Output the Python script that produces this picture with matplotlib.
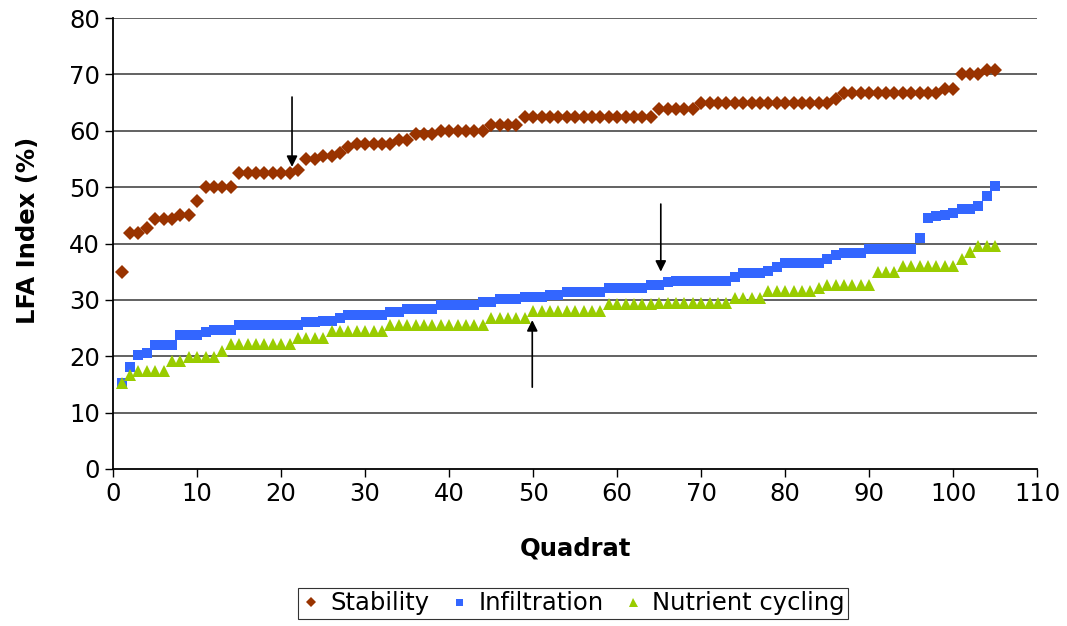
import numpy as np
import matplotlib.pyplot as plt

plt.rcParams['font.family'] = ['DejaVu Sans']

# (value, number of consecutive quadrats) runs, sorted ascending
stability_runs = [(35.0, 1), (41.8, 2), (42.8, 1), (44.4, 3), (45.1, 2), (47.5, 1),
                  (50.0, 4), (52.5, 7), (53.1, 1), (55.0, 2), (55.5, 2), (56.1, 1),
                  (57.2, 1), (57.6, 5), (58.4, 2), (59.4, 3), (60.0, 6), (61.1, 4),
                  (62.4, 16), (63.8, 5), (65.0, 16), (65.6, 1), (66.7, 12), (67.5, 2),
                  (70.0, 3), (70.8, 2)]
infiltration_runs = [(15.3, 1), (18.0, 1), (20.3, 1), (20.5, 1), (22.0, 3), (23.7, 3),
                     (24.3, 1), (24.7, 3), (25.5, 8), (26.0, 2), (26.3, 2), (26.8, 1),
                     (27.3, 5), (27.9, 2), (28.4, 4), (29.0, 5), (29.6, 2), (30.1, 3),
                     (30.5, 3), (30.9, 2), (31.4, 5), (32.1, 5), (32.7, 2), (33.1, 1),
                     (33.4, 7), (34.1, 1), (34.8, 3), (35.1, 1), (35.9, 1), (36.6, 5),
                     (37.3, 1), (37.9, 1), (38.4, 3), (39.1, 6), (40.9, 1), (44.5, 1),
                     (44.8, 1), (45.0, 1), (45.5, 1), (46.1, 2), (46.6, 1), (48.4, 1),
                     (50.2, 1)]
nutrient_runs = [(15.2, 1), (16.6, 1), (17.4, 4), (19.2, 2), (19.8, 4), (20.9, 1),
                 (22.1, 8), (23.3, 4), (24.5, 7), (25.6, 12), (26.7, 5), (28.0, 9),
                 (29.2, 6), (29.4, 9), (30.4, 4), (31.5, 6), (32.1, 1), (32.6, 6),
                 (34.9, 3), (36.0, 7), (37.2, 1), (38.5, 1), (39.6, 3)]


def expand(runs):
    return np.concatenate([np.full(n, v) for v, n in runs])


stability = expand(stability_runs)
infiltration = expand(infiltration_runs)
nutrient = expand(nutrient_runs)
quadrat = np.arange(1, len(stability) + 1)

# arrows: (x, y_start, y_tip)
arrows = [(21.3, 66.0, 53.6), (65.2, 47.0, 35.0), (49.9, 14.5, 26.4)]

fig = plt.figure(figsize=(10.67, 6.26), dpi=100)
ax = fig.add_axes([0.106, 0.251, 0.866, 0.720])

for y in range(10, 90, 10):
    ax.axhline(y, color='#555555', lw=1.3, zorder=1)

ax.plot(quadrat, stability, 'D', color='#993300', ms=6.8, mew=0, label='Stability', zorder=3)
ax.plot(quadrat, infiltration, 's', color='#3366FF', ms=7.0, mew=0, label='Infiltration', zorder=3)
ax.plot(quadrat, nutrient, '^', color='#99CC00', ms=9.0, mew=0, label='Nutrient cycling', zorder=3)

for x, y0, y1 in arrows:
    ax.annotate('', xy=(x, y1), xytext=(x, y0),
                arrowprops=dict(arrowstyle='-|>', color='black', lw=1.2,
                                mutation_scale=16, shrinkA=0, shrinkB=0))

ax.set_xlim(0, 110)
ax.set_ylim(0, 80)
ax.set_xticks(range(0, 111, 10))
ax.set_yticks(range(0, 81, 10))
ax.tick_params(direction='out', length=6, width=1, labelsize=17.5, colors='black')
for s in ['top', 'right']:
    ax.spines[s].set_visible(False)
ax.spines['left'].set_linewidth(1.3)
ax.spines['bottom'].set_linewidth(1.3)

ax.set_xlabel('Quadrat', fontsize=17.5, fontweight='bold', labelpad=22)
ax.set_ylabel('LFA Index (%)', fontsize=17.5, fontweight='bold')
ax.yaxis.set_label_coords(-0.079, 0.53)

leg = fig.legend(loc='lower center', bbox_to_anchor=(0.537, -0.008), ncol=3, fontsize=17.5,
                 frameon=True, fancybox=False, edgecolor='black', handlelength=0.8,
                 handletextpad=0.4, columnspacing=0.8, borderpad=0.15, markerscale=0.72)
leg.get_frame().set_linewidth(0.8)

fig.savefig('out.png', dpi=100)
